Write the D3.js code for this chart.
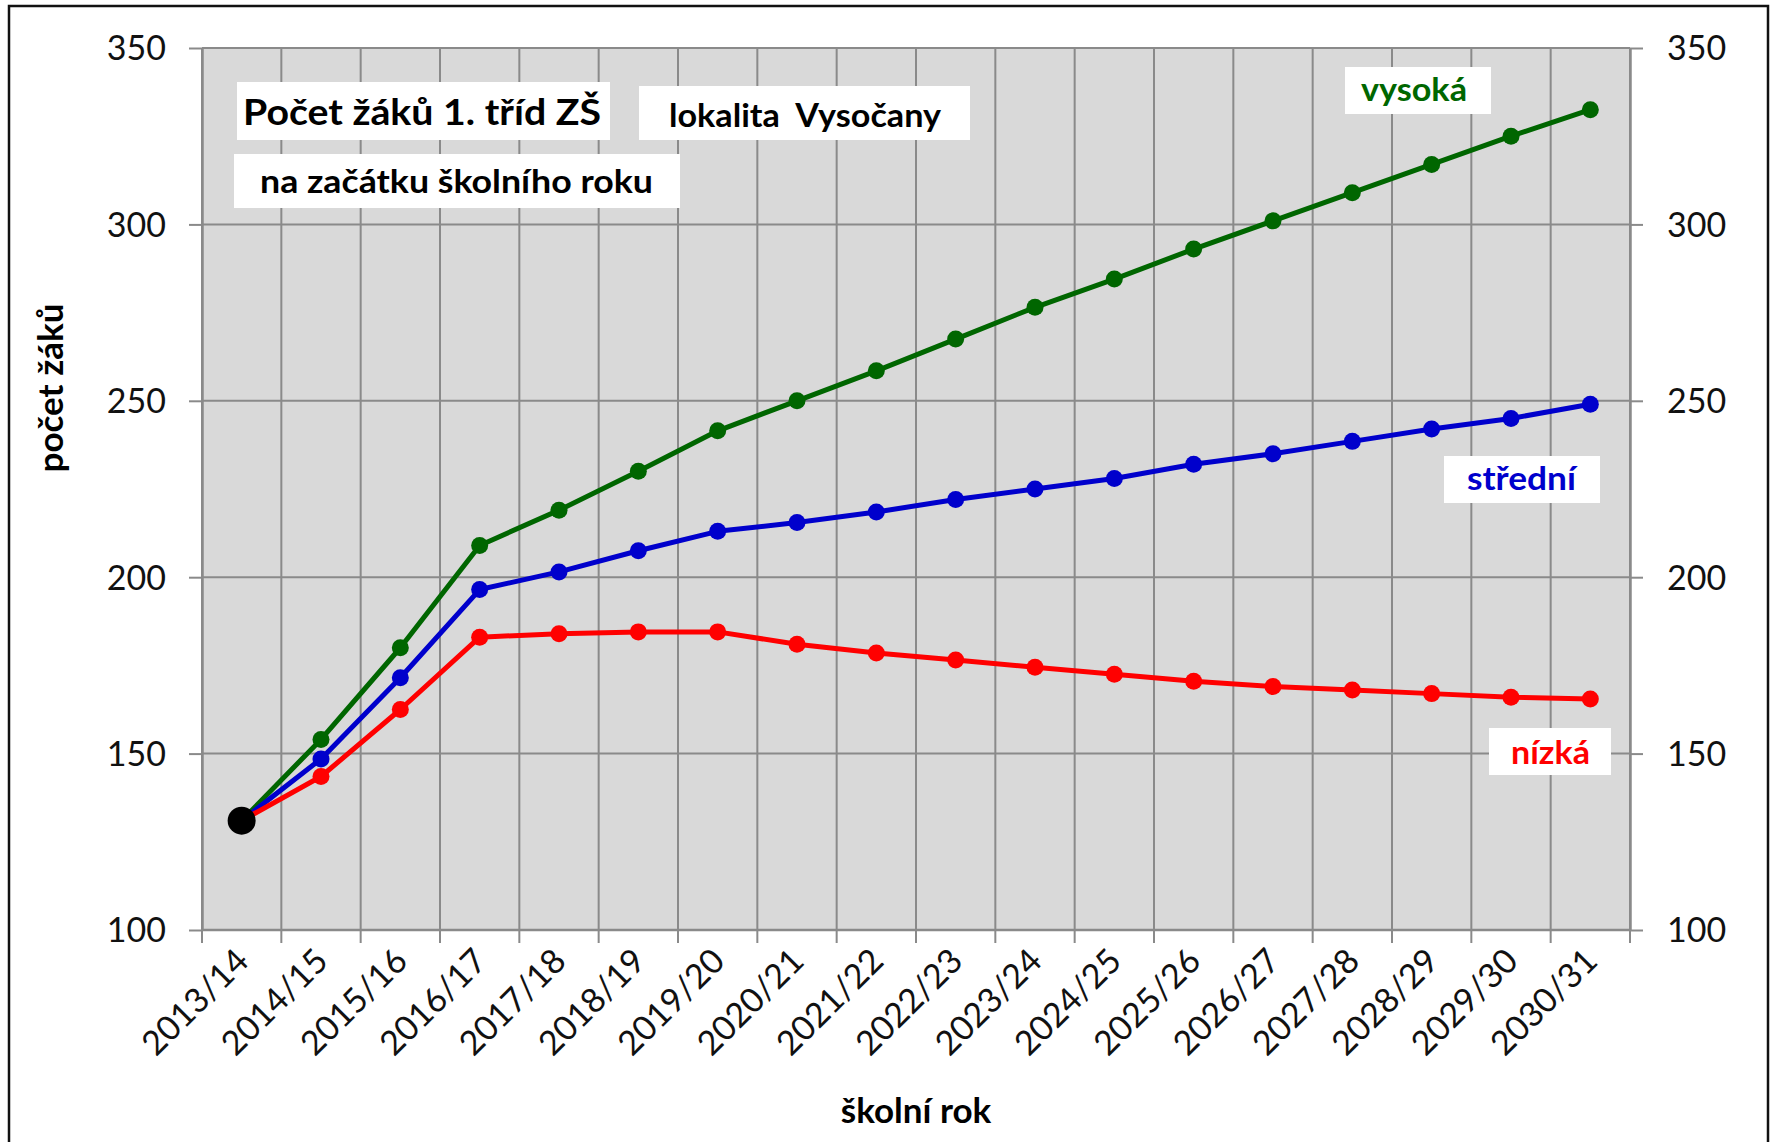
<!DOCTYPE html>
<html>
<head>
<meta charset="utf-8">
<script src="https://cdn.jsdelivr.net/npm/d3@7"></script>
<style>
  body { margin: 0; background: #fff; }
  text { font-family: Lato, "Liberation Sans", sans-serif; }
</style>
</head>
<body>
<div id="chart"></div>
<script>
// school years on the x axis
const schoolYears = ['2013/14', '2014/15', '2015/16', '2016/17', '2017/18', '2018/19',
    '2019/20', '2020/21', '2021/22', '2022/23', '2023/24', '2024/25', '2025/26',
    '2026/27', '2027/28', '2028/29', '2029/30', '2030/31'];

// pupils in first classes, the three variants (first value = known start year)
const highVariant = [131, 154, 180, 209, 219, 230, 241.5, 250, 258.5, 267.5, 276.5, 284.5, 293, 301, 309, 317, 325, 332.5];
const middleVariant = [131, 148.5, 171.5, 196.5, 201.5, 207.5, 213, 215.5, 218.5, 222, 225, 228, 232, 235, 238.5, 242, 245, 249];
const lowVariant = [131, 143.5, 162.5, 183, 184, 184.5, 184.5, 181, 178.5, 176.5, 174.5, 172.5, 170.5, 169, 168, 167, 166, 165.5];

const yTicks = [100, 150, 200, 250, 300, 350];

const greenColor = '#006600';
const blueColor = '#0000cc';
const redColor = '#ff0000';
const gridColor = '#8a8a8a';

function chart() {
    const W = 1774, H = 1142;
    const plot = {left: 202, right: 1630, top: 48, bottom: 930};

    const svg = d3.select('#chart')
        .append('svg')
        .attr('width', W)
        .attr('height', H);

    // outer frame
    svg.append('rect')
        .attr('x', 9).attr('y', 6)
        .attr('width', 1759).attr('height', 1160)
        .attr('fill', 'white')
        .attr('stroke', '#111')
        .attr('stroke-width', 2.5);

    const x = d3.scaleBand()
        .domain(schoolYears)
        .range([plot.left, plot.right])
        .padding(0);
    const y = d3.scaleLinear()
        .domain([100, 350])
        .range([plot.bottom, plot.top]);
    const cx = d => x(d) + x.bandwidth() / 2;

    // plot background
    svg.append('rect')
        .attr('x', plot.left).attr('y', plot.top)
        .attr('width', plot.right - plot.left)
        .attr('height', plot.bottom - plot.top)
        .attr('fill', '#d9d9d9');

    // category boundaries
    const bounds = schoolYears.map(d => x(d)).concat([x.range()[1]]);
    svg.append('g')
        .selectAll('line')
        .data(bounds)
        .enter()
        .append('line')
        .attr('x1', d => d).attr('x2', d => d)
        .attr('y1', plot.top).attr('y2', plot.bottom + 13)
        .attr('stroke', gridColor)
        .attr('stroke-width', 2);

    // horizontal grid
    svg.append('g')
        .selectAll('line')
        .data(yTicks)
        .enter()
        .append('line')
        .attr('x1', plot.left).attr('x2', plot.right)
        .attr('y1', d => y(d)).attr('y2', d => y(d))
        .attr('stroke', gridColor)
        .attr('stroke-width', 2);

    // y axes, both sides
    const leftAxis = svg.append('g')
        .attr('transform', `translate(${plot.left}, 0)`)
        .call(d3.axisLeft(y).tickValues(yTicks).tickSize(13).tickSizeOuter(0).tickPadding(23));
    const rightAxis = svg.append('g')
        .attr('transform', `translate(${plot.right}, 0)`)
        .call(d3.axisRight(y).tickValues(yTicks).tickSize(13).tickSizeOuter(0).tickPadding(24));
    [leftAxis, rightAxis].forEach(function(a) {
        a.select('.domain').attr('stroke', gridColor).attr('stroke-width', 2.5);
        a.selectAll('line').attr('stroke', gridColor).attr('stroke-width', 2);
        a.selectAll('text')
            .attr('fill', '#111')
            .style('font-size', '34px')
            .attr('dy', '0.35em');
    });

    // x axis
    const bottomAxis = svg.append('g')
        .attr('transform', `translate(0, ${plot.bottom})`)
        .call(d3.axisBottom(x).tickSize(0).tickSizeOuter(0));
    bottomAxis.select('.domain')
        .attr('d', `M${plot.left},0H${plot.right}`)
        .attr('stroke', gridColor).attr('stroke-width', 2.5);
    bottomAxis.selectAll('text')
        .attr('y', 0).attr('dy', 0)
        .attr('transform', 'translate(9, 33) rotate(-45)')
        .style('text-anchor', 'end')
        .style('font-size', '34px')
        .attr('fill', '#111');

    // series
    const series = [
        {values: highVariant, color: greenColor},
        {values: middleVariant, color: blueColor},
        {values: lowVariant, color: redColor}
    ];
    const line = d3.line()
        .x((d, i) => cx(schoolYears[i]))
        .y(d => y(d));

    series.forEach(function(s) {
        svg.append('path')
            .datum(s.values)
            .attr('d', line)
            .attr('fill', 'none')
            .attr('stroke', s.color)
            .attr('stroke-width', 5)
            .attr('stroke-linejoin', 'round');
        svg.append('g')
            .selectAll('circle')
            .data(s.values.slice(1))
            .enter()
            .append('circle')
            .attr('cx', (d, i) => cx(schoolYears[i + 1]))
            .attr('cy', d => y(d))
            .attr('r', 8.5)
            .attr('fill', s.color);
    });

    // known starting year
    svg.append('circle')
        .attr('cx', cx(schoolYears[0]))
        .attr('cy', y(highVariant[0]))
        .attr('r', 14)
        .attr('fill', 'black');

    // text boxes
    const boxes = [
        {txt: 'Počet žáků 1. tříd ZŠ', x0: 237, x1: 610, y0: 82, y1: 140, tx: 243, tw: 358, by: 125, size: 36, color: '#000'},
        {txt: 'lokalita  Vysočany', x0: 639, x1: 970, y0: 86, y1: 140, tx: 669, tw: 272, by: 127, size: 32, color: '#000'},
        {txt: 'na začátku školního roku', x0: 234, x1: 680, y0: 154, y1: 208, tx: 260, tw: 393, by: 193, size: 33, color: '#000'},
        {txt: 'vysoká', x0: 1345, x1: 1491, y0: 67, y1: 114, tx: 1361, tw: 106, by: 101, size: 33, color: greenColor},
        {txt: 'střední', x0: 1444, x1: 1600, y0: 456, y1: 503, tx: 1467, tw: 109, by: 490, size: 33, color: blueColor},
        {txt: 'nízká', x0: 1489, x1: 1611, y0: 728, y1: 775, tx: 1511, tw: 79, by: 764, size: 33, color: redColor}
    ];
    boxes.forEach(function(b) {
        svg.append('rect')
            .attr('x', b.x0).attr('y', b.y0)
            .attr('width', b.x1 - b.x0).attr('height', b.y1 - b.y0)
            .attr('fill', 'white');
        svg.append('text')
            .attr('x', b.tx).attr('y', b.by)
            .attr('textLength', b.tw)
            .attr('lengthAdjust', 'spacingAndGlyphs')
            .style('font-size', b.size + 'px')
            .style('font-weight', 'bold')
            .style('white-space', 'pre')
            .attr('fill', b.color)
            .text(b.txt);
    });

    // axis titles
    svg.append('text')
        .attr('transform', 'translate(63, 388) rotate(-90)')
        .style('text-anchor', 'middle')
        .style('font-size', '35px')
        .style('font-weight', 'bold')
        .text('počet žáků');
    svg.append('text')
        .attr('x', 916).attr('y', 1123)
        .style('text-anchor', 'middle')
        .style('font-size', '35px')
        .style('font-weight', 'bold')
        .text('školní rok');
}

chart();
</script>
</body>
</html>
